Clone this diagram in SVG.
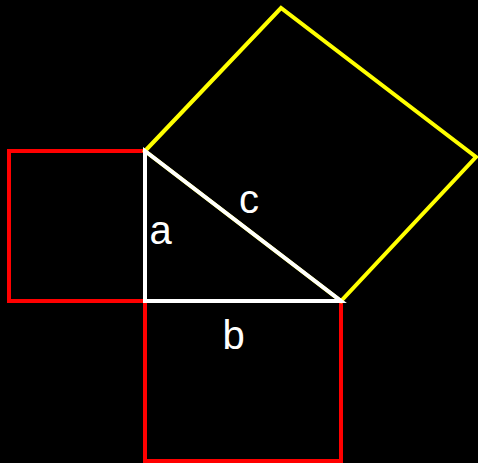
<svg xmlns="http://www.w3.org/2000/svg" width="478" height="463" viewBox="0 0 478 463">
<style>
.s{fill:none;stroke-width:4;stroke-linejoin:miter}
.red{stroke:#ff0000}
.yel{stroke:#ffff00}
.wht{stroke:#ffffff}
.lbl{font-family:"Liberation Sans",Arial,sans-serif;font-size:40px;fill:#ffffff;text-anchor:middle}
</style>
<rect x="0" y="0" width="478" height="463" fill="#000000"/>
<g id="square-a"><polygon class="s red" points="145,151 9,151 9,301 145,301"/></g>
<g id="square-b"><polygon class="s red" points="145,301 145,461 341,461 341,301"/></g>
<g id="square-c"><polygon class="s yel" points="145,151 281,8 476,157 341,301"/></g>
<g id="triangle"><polygon class="s wht" points="145,151 145,301 341,301"/></g>
<g id="labels">
<text class="lbl" x="160.5" y="244">a</text>
<text class="lbl" x="233.5" y="349">b</text>
<text class="lbl" x="249" y="213">c</text>
</g>
</svg>
